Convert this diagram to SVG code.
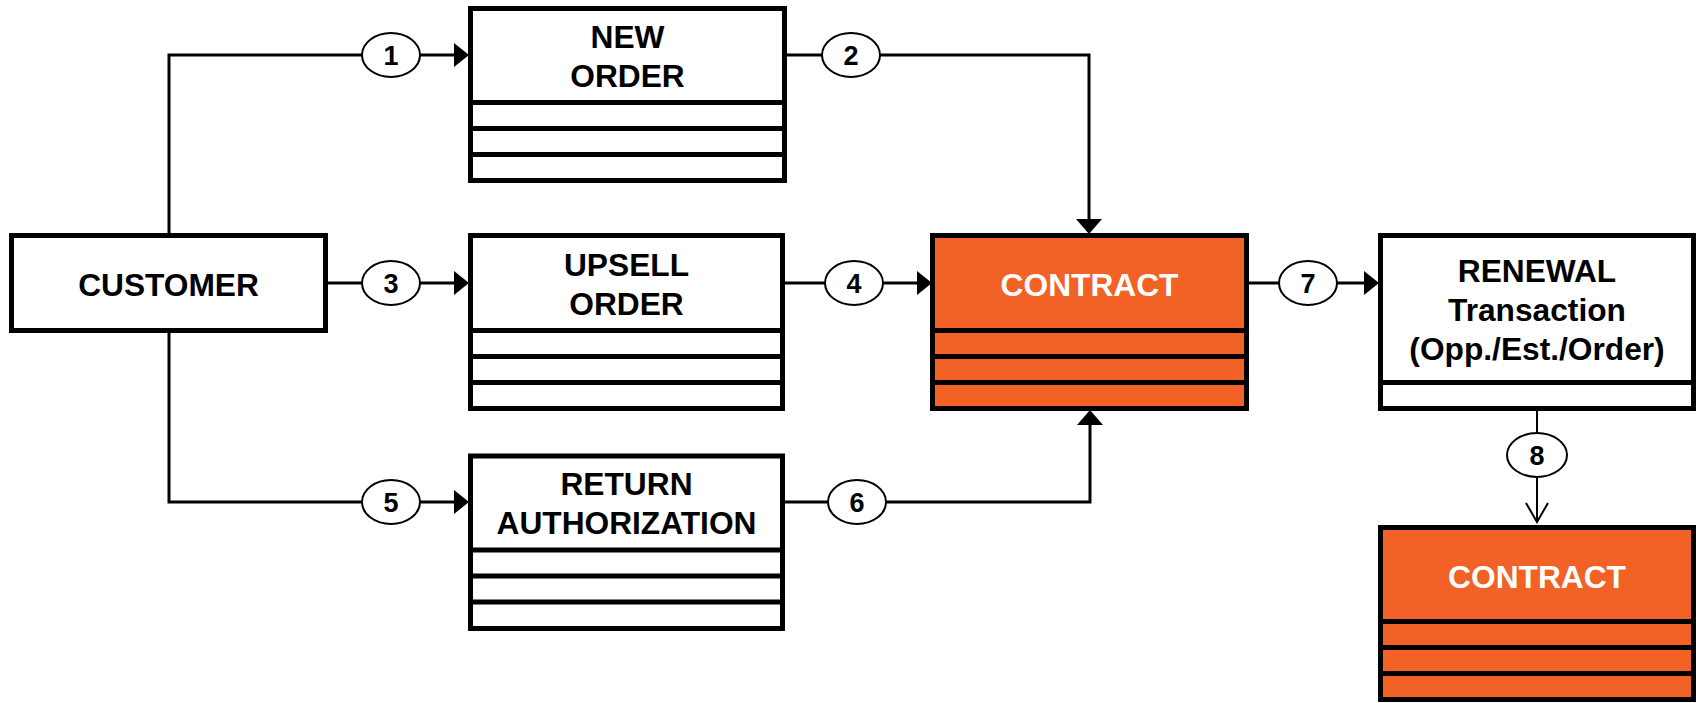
<svg xmlns="http://www.w3.org/2000/svg" width="1696" height="703" viewBox="0 0 1696 703">
<style>
.box{fill:#fff;stroke:#000;stroke-width:5}
.obox{fill:#F26125;stroke:#000;stroke-width:5}
.sep{stroke:#000;stroke-width:5}
.t{font-family:"Liberation Sans",Arial,sans-serif;font-weight:bold;font-size:31.7px;text-anchor:middle;fill:#000}
.tw{fill:#fff}
.conn{fill:none;stroke:#000;stroke-width:3}
.thin{fill:none;stroke:#000;stroke-width:2}
.ah{fill:#000}
.badge{fill:#fff;stroke:#000;stroke-width:2}
.n{font-family:"Liberation Sans",Arial,sans-serif;font-weight:bold;font-size:27px;text-anchor:middle;fill:#000}
</style>
<rect width="1696" height="703" fill="#fff"/>
<g id="connectors">
  <path class="conn" d="M169 233 V55 H455"/>
  <polygon class="ah" points="454,43 469,55 454,67"/>
  <path class="conn" d="M787 55 H1089 V220"/>
  <polygon class="ah" points="1076,219 1102,219 1089,234"/>
  <path class="conn" d="M328 283 H455"/>
  <polygon class="ah" points="454,271 469,283 454,295"/>
  <path class="conn" d="M785 283 H918"/>
  <polygon class="ah" points="917,271 932,283 917,295"/>
  <path class="conn" d="M169 333 V502 H455"/>
  <polygon class="ah" points="454,490 469,502 454,514"/>
  <path class="conn" d="M785 502 H1090 V424"/>
  <polygon class="ah" points="1077,425 1103,425 1090,410"/>
  <path class="conn" d="M1249 283 H1365"/>
  <polygon class="ah" points="1364,271 1379,283 1364,295"/>
  <path class="thin" d="M1537 411 V522"/>
  <polyline class="thin" points="1526,503 1537,522 1548,503"/>
  <g id="badges">
    <ellipse class="badge" cx="391" cy="55" rx="29" ry="22"/><text class="n" x="391" y="65">1</text>
    <ellipse class="badge" cx="851" cy="55" rx="29" ry="22"/><text class="n" x="851" y="65">2</text>
    <ellipse class="badge" cx="391" cy="283" rx="29" ry="22"/><text class="n" x="391" y="293">3</text>
    <ellipse class="badge" cx="854" cy="283" rx="29" ry="22"/><text class="n" x="854" y="293">4</text>
    <ellipse class="badge" cx="391" cy="502" rx="29" ry="22"/><text class="n" x="391" y="512">5</text>
    <ellipse class="badge" cx="857" cy="502" rx="29" ry="22"/><text class="n" x="857" y="512">6</text>
    <ellipse class="badge" cx="1308" cy="283" rx="29" ry="22"/><text class="n" x="1308" y="293">7</text>
    <ellipse class="badge" cx="1537" cy="455" rx="30" ry="22"/><text class="n" x="1537" y="465">8</text>
  </g>
</g>
<g id="customer">
  <rect class="box" x="11.5" y="235.5" width="314" height="95"/>
  <text class="t" x="168.5" y="296">CUSTOMER</text>
</g>
<g id="new-order">
  <rect class="box" x="470.5" y="8.5" width="314" height="172"/>
  <line class="sep" x1="470.5" y1="102.5" x2="784.5" y2="102.5"/>
  <line class="sep" x1="470.5" y1="128.5" x2="784.5" y2="128.5"/>
  <line class="sep" x1="470.5" y1="154.5" x2="784.5" y2="154.5"/>
  <text class="t" x="627.5" y="48">NEW</text>
  <text class="t" x="627.5" y="87">ORDER</text>
</g>
<g id="upsell-order">
  <rect class="box" x="470.5" y="235.5" width="312" height="173"/>
  <line class="sep" x1="470.5" y1="330.5" x2="782.5" y2="330.5"/>
  <line class="sep" x1="470.5" y1="356.5" x2="782.5" y2="356.5"/>
  <line class="sep" x1="470.5" y1="382.5" x2="782.5" y2="382.5"/>
  <text class="t" x="626.5" y="276">UPSELL</text>
  <text class="t" x="626.5" y="315">ORDER</text>
</g>
<g id="return-authorization">
  <rect class="box" x="470.5" y="456" width="312" height="172.5"/>
  <line class="sep" x1="470.5" y1="550" x2="782.5" y2="550"/>
  <line class="sep" x1="470.5" y1="576" x2="782.5" y2="576"/>
  <line class="sep" x1="470.5" y1="602" x2="782.5" y2="602"/>
  <text class="t" x="626.5" y="495">RETURN</text>
  <text class="t" x="626.5" y="534">AUTHORIZATION</text>
</g>
<g id="contract">
  <rect class="obox" x="932.5" y="235.5" width="314" height="173"/>
  <line class="sep" x1="932.5" y1="330.5" x2="1246.5" y2="330.5"/>
  <line class="sep" x1="932.5" y1="356.5" x2="1246.5" y2="356.5"/>
  <line class="sep" x1="932.5" y1="382.5" x2="1246.5" y2="382.5"/>
  <text class="t tw" x="1089.5" y="296">CONTRACT</text>
</g>
<g id="renewal">
  <rect class="box" x="1380.5" y="235.5" width="313" height="173"/>
  <line class="sep" x1="1380.5" y1="382.5" x2="1693.5" y2="382.5"/>
  <text class="t" x="1537" y="282">RENEWAL</text>
  <text class="t" x="1537" y="321">Transaction</text>
  <text class="t" x="1537" y="360">(Opp./Est./Order)</text>
</g>
<g id="contract-2">
  <rect class="obox" x="1380.5" y="527.5" width="313" height="172"/>
  <line class="sep" x1="1380.5" y1="621.5" x2="1693.5" y2="621.5"/>
  <line class="sep" x1="1380.5" y1="647.5" x2="1693.5" y2="647.5"/>
  <line class="sep" x1="1380.5" y1="673.5" x2="1693.5" y2="673.5"/>
  <text class="t tw" x="1537" y="588">CONTRACT</text>
</g>
</svg>
